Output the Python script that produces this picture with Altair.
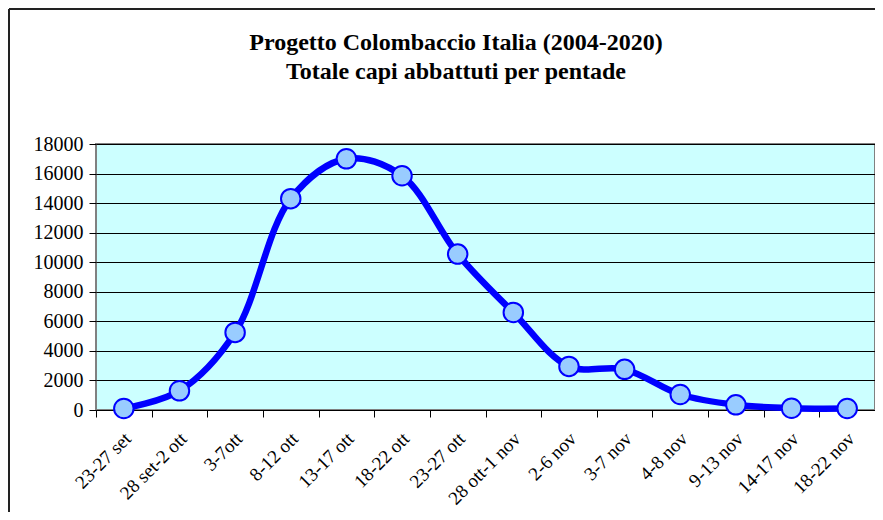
import altair as alt
import pandas as pd

categories = ["23-27 set", "28 set-2 ott", "3-7ott", "8-12 ott", "13-17 ott",
              "18-22 ott", "23-27 ott", "28 ott-1 nov", "2-6 nov", "3-7 nov",
              "4-8 nov", "9-13 nov", "14-17 nov", "18-22 nov"]
values = [100, 1300, 5250, 14300, 17000, 15850, 10550, 6600, 2950, 2750,
          1050, 350, 120, 100]
y_ticks = list(range(0, 18001, 2000))
title_lines = ["Progetto Colombaccio Italia (2004-2020)",
               "Totale capi abbattuti per pentade"]

df = pd.DataFrame({"idx": list(range(len(categories))),
                   "cat": categories, "val": values})

FONT = "Liberation Serif"
W, H = 779, 266

xscale = alt.Scale(domain=[-0.5, len(categories) - 0.5], nice=False, zero=False)
yscale = alt.Scale(domain=[0, 18000], nice=False, zero=True)

x_axis = alt.Axis(values=[i - 0.5 for i in range(len(categories) + 1)],
                  labels=False, ticks=True, tickSize=7, tickColor="black",
                  domain=False, grid=False, title=None)
y_axis = alt.Axis(values=y_ticks, format="d", labelOverlap=False,
                  tickCount=10, tickSize=7, tickColor="black",
                  labelPadding=6, labelFontSize=20, labelFont=FONT,
                  labelColor="black", domain=False, grid=True,
                  gridColor="black", gridWidth=1, title=None)

x_enc = alt.X("idx:Q", scale=xscale, axis=x_axis)
y_enc = alt.Y("val:Q", scale=yscale, axis=y_axis)

base = alt.Chart(df)

line = base.mark_line(color="#0000FF", strokeWidth=6.5,
                      interpolate="catmull-rom").encode(x=x_enc, y=y_enc)
points = base.mark_point(filled=True, fill="#99CCFF", stroke="#0000FF",
                         strokeWidth=2, size=380, opacity=1).encode(x=x_enc, y=y_enc)

xlabels = base.mark_text(angle=315, align="right", baseline="middle", dx=6,
                         font=FONT, fontSize=19, color="black").encode(
    x=x_enc, y=alt.value(H + 30), text="cat:N")

one = alt.InlineData(values=[{"a": 1}])
t1 = alt.Chart(one).mark_text(text=title_lines[0], font=FONT, fontSize=24,
                              fontWeight="bold", align="center",
                              baseline="alphabetic", color="black").encode(
    x=alt.value(360), y=alt.value(-94))
t2 = alt.Chart(one).mark_text(text=title_lines[1], font=FONT, fontSize=24,
                              fontWeight="bold", align="center",
                              baseline="alphabetic", color="black").encode(
    x=alt.value(360), y=alt.value(-65))
border_left = alt.Chart(one).mark_rule(color="#222222", strokeWidth=2).encode(
    x=alt.value(-87), y=alt.value(-135), y2=alt.value(H + 130))
border_top = alt.Chart(one).mark_rule(color="#222222", strokeWidth=2).encode(
    x=alt.value(-87), x2=alt.value(W + 40), y=alt.value(-135))

chart = alt.layer(line, points, xlabels, t1, t2, border_left, border_top).properties(
    width=W, height=H,
    padding={"left": 88, "top": 136, "right": 0, "bottom": 102},
    autosize="none",
).configure(background="white").configure_view(
    fill="#CCFFFF", stroke="#808080", strokeWidth=2)

chart.save("out.html", embed_options={"renderer": "svg", "actions": False})
